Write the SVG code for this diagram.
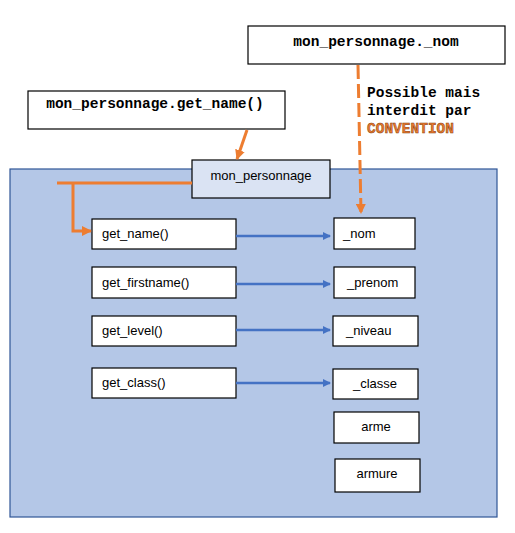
<svg xmlns="http://www.w3.org/2000/svg" width="515" height="533" viewBox="0 0 515 533">
<defs>
<style>
.box{fill:#fff;stroke:#000;stroke-width:1.2}
.t{font-family:"Liberation Sans",Arial,sans-serif;font-size:13px;fill:#000}
.c{font-family:"Liberation Mono","Courier New",monospace;font-size:14.5px;font-weight:bold;fill:#000}
.conv{fill:#ed7d31;stroke:#843c0c;stroke-width:0.5}
.blue{stroke:#4472c4;stroke-width:2.5;fill:none}
.orange{stroke:#ed7d31;stroke-width:3;fill:none}
</style>
<marker id="ab" markerWidth="8" markerHeight="8" refX="7" refY="4" orient="auto" markerUnits="userSpaceOnUse"><path d="M0,0 L8,4 L0,8 Z" fill="#4472c4"/></marker>
<marker id="ao" markerWidth="10" markerHeight="10" refX="9" refY="5" orient="auto" markerUnits="userSpaceOnUse"><path d="M0,0 L10,5 L0,10 Z" fill="#ed7d31"/></marker>
</defs>
<rect width="515" height="533" fill="#fff"/>
<g id="container"><rect x="10" y="169" width="487" height="348" fill="#b4c7e7" stroke="#2f5597" stroke-width="1.2"/></g>
<g id="obj"><rect x="192" y="160" width="138" height="38" fill="#dae3f3" stroke="#000" stroke-width="1.2"/><text class="t" x="261" y="180" text-anchor="middle">mon_personnage</text></g>
<g id="call1"><rect class="box" x="28" y="91" width="257" height="38"/><text class="c" x="155" y="108" text-anchor="middle">mon_personnage.get_name()</text></g>
<g id="call2"><rect class="box" x="248" y="26" width="257" height="38"/><text class="c" x="376" y="46" text-anchor="middle">mon_personnage._nom</text></g>
<g id="note"><text class="c" x="367" y="97">Possible mais</text><text class="c" x="367" y="115">interdit par</text><text class="c conv" x="367" y="133">CONVENTION</text></g>
<g id="m1"><rect class="box" x="92" y="219" width="144" height="30"/><text class="t" x="102" y="238">get_name()</text></g>
<g id="m2"><rect class="box" x="92" y="267" width="144" height="31"/><text class="t" x="102" y="287">get_firstname()</text></g>
<g id="m3"><rect class="box" x="92" y="316" width="144" height="30"/><text class="t" x="102" y="335">get_level()</text></g>
<g id="m4"><rect class="box" x="92" y="368" width="144" height="30"/><text class="t" x="102" y="387">get_class()</text></g>
<g id="a1"><rect class="box" x="334" y="218" width="81" height="31"/><text class="t" x="343" y="238">_nom</text></g>
<g id="a2"><rect class="box" x="334" y="267" width="81" height="31"/><text class="t" x="347" y="287">_prenom</text></g>
<g id="a3"><rect class="box" x="333" y="316" width="85" height="30"/><text class="t" x="346" y="335">_niveau</text></g>
<g id="a4"><rect class="box" x="333" y="369" width="85" height="30"/><text class="t" x="375" y="388" text-anchor="middle">_classe</text></g>
<g id="a5"><rect class="box" x="334" y="412" width="85" height="31"/><text class="t" x="376" y="431" text-anchor="middle">arme</text></g>
<g id="a6"><rect class="box" x="335" y="459" width="85" height="33"/><text class="t" x="377" y="478" text-anchor="middle">armure</text></g>
<g id="connectors">
<path class="blue" d="M236,236 H330" marker-end="url(#ab)"/>
<path class="blue" d="M236,284 H330" marker-end="url(#ab)"/>
<path class="blue" d="M236,330 H330" marker-end="url(#ab)"/>
<path class="blue" d="M236,383 H330" marker-end="url(#ab)"/>
<path class="orange" d="M192,183 H57 M73,183 V231 H91" marker-end="url(#ao)"/>
<path class="orange" d="M247,130 L237,159" marker-end="url(#ao)"/>
<path class="orange" d="M358,65 L361,213" stroke-dasharray="14,5" marker-end="url(#ao)"/>
</g>
</svg>
